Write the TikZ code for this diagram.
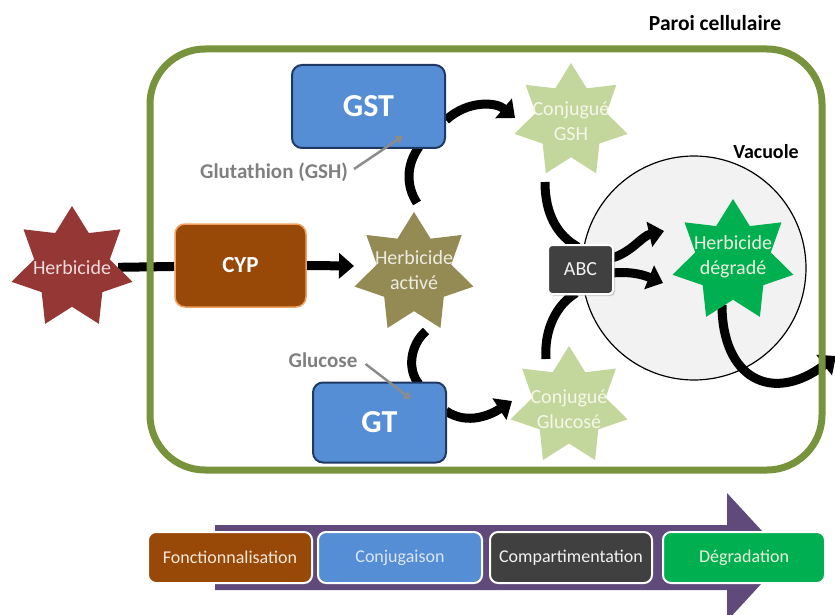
\documentclass[tikz,border=0pt]{standalone}
\usepackage{fontspec}
\setmainfont{Carlito}
\usetikzlibrary{shapes.geometric,arrows.meta,shadows}
\pgfdeclarelayer{bg}
\pgfdeclarelayer{arr}
\pgfsetlayers{bg,arr,main}
\definecolor{wallgreen}{HTML}{77933C}
\definecolor{herbred}{HTML}{953735}
\definecolor{herbtxt}{HTML}{F2DCDB}
\definecolor{cypfill}{HTML}{984807}
\definecolor{cypline}{HTML}{F0A060}
\definecolor{bluefill}{HTML}{558ED5}
\definecolor{blueline}{HTML}{1F3864}
\definecolor{activfill}{HTML}{948A54}
\definecolor{activtxt}{HTML}{EEECE1}
\definecolor{conjfill}{HTML}{C3D69B}
\definecolor{conjtxt}{HTML}{F4F8EA}
\definecolor{degfill}{HTML}{00B050}
\definecolor{degtxt}{HTML}{EBF1DE}
\definecolor{abcfill}{HTML}{404040}
\definecolor{vacfill}{HTML}{F2F2F2}
\definecolor{purp}{HTML}{604A7B}
\definecolor{graylbl}{HTML}{7F7F7F}
\definecolor{txtorange}{HTML}{FDE9D9}
\definecolor{txtblue}{HTML}{DCE6F2}
\begin{document}
\begin{tikzpicture}[x=1pt,y=-1pt,
  starshape/.style={star, star points=7, star point ratio=1.6, inner sep=0pt, draw=none},
  startxt/.style={font=\fontsize{20}{25}\selectfont, align=center, inner sep=0pt},
  enzbox/.style={rectangle, rounded corners=10pt, inner sep=0pt, text=white, font=\bfseries\fontsize{32}{34}\selectfont},
  stepbox/.style={rectangle, rounded corners=8pt, draw=white, line width=2pt, inner sep=0pt, minimum height=51pt, font=\fontsize{18}{20}\selectfont},
  fatline/.style={line width=9pt, black},
  fatarrow/.style={line width=9pt, black, -{Triangle[length=15pt,width=25pt]}},
  grayarr/.style={draw=graylbl!90, line width=2.5pt, -{Triangle[length=7pt,width=9pt]}},
  graytxt/.style={text=graylbl, font=\bfseries\fontsize{21}{24}\selectfont, inner sep=0pt},
  boldtxt/.style={font=\bfseries\fontsize{20}{24}\selectfont, inner sep=0pt}
]
\useasboundingbox (0,0) rectangle (835,615);
\clip (0,0) rectangle (835,615);

% bottom purple arrow
\fill[purp] (215,525) -- (727,525) -- (727,493) -- (786,557) -- (727,621) -- (727,590) -- (215,590) -- cycle;
\node[stepbox, fill=cypfill, text=txtorange, minimum width=164pt] (b1) at (230,557.5) {Fonctionnalisation};
\node[stepbox, fill=bluefill, text=txtblue, minimum width=164pt] (b2) at (400,557.5) {Conjugaison};
\node[stepbox, fill=abcfill, text=vacfill, minimum width=162pt] (b3) at (571,557.5) {Compartimentation};
\node[stepbox, fill=degfill, text=degtxt, minimum width=162pt] (b4) at (744,557.5) {Dégradation};

% titles
\node[boldtxt, font=\bfseries\fontsize{21.5}{24}\selectfont] (paroi) at (715,23) {Paroi cellulaire};
\node[boldtxt] (vactxt) at (766,152) {Vacuole};

% vacuole
\begin{pgfonlayer}{bg}
\fill[vacfill] (694,268) circle[radius=112pt];
\end{pgfonlayer}
\draw[black, line width=1.2pt] (694,268) circle[radius=112pt];
\coordinate (vac) at (694,268);

% cell wall
\draw[wallgreen, line width=7pt, rounded corners=55pt] (150,49) rectangle (822,470);

% nodes
\node[starshape, fill=herbred, minimum size=124pt,
  label={[startxt, text=herbtxt]center:Herbicide}] (hs) at (72,268) {};
\node[enzbox, fill=cypfill, draw=cypline, line width=1.5pt, minimum width=131pt, minimum height=83pt,
  font=\bfseries\fontsize{23}{26}\selectfont] (cyp) at (240.5,265.5) {CYP};
\node[starshape, fill=activfill, minimum size=122pt,
  label={[startxt, text=activtxt, yshift=3pt]center:Herbicide\\activé}] (activ) at (414,273) {};
\node[enzbox, fill=bluefill, draw=blueline, line width=2pt, minimum width=153pt, minimum height=83pt] (gst) at (368.5,106.5) {GST};
\node[enzbox, fill=bluefill, draw=blueline, line width=2pt, minimum width=133pt, minimum height=80pt] (gt) at (379.5,422.5) {GT};
\node[starshape, fill=conjfill, minimum size=116pt,
  label={[startxt, text=conjtxt]center:Conjugué\\GSH}] (cgsh) at (571,121) {};
\node[starshape, fill=conjfill, minimum size=120pt,
  label={[startxt, text=conjtxt, yshift=-3pt]center:Conjugué\\Glucosé}] (cglu) at (569,406) {};
\node[starshape, fill=degfill, minimum size=124pt,
  label={[startxt, text=degtxt, yshift=4pt]center:Herbicide\\dégradé}] (deg) at (733,261) {};
\node[rectangle, rounded corners=4pt, fill=abcfill, draw=white, line width=2pt,
  minimum width=65pt, minimum height=49pt, inner sep=0pt, text=vacfill,
  font=\fontsize{20}{24}\selectfont,
  drop shadow={shadow xshift=2pt, shadow yshift=-2pt, fill=gray!70}] (abc) at (580.5,269.5) {ABC};

\node[graytxt] (glut) at (274,172) {Glutathion (GSH)};
\node[graytxt] (gluc) at (323,360) {Glucose};

% connector end points
\coordinate (tipcyp) at (354,266);
\coordinate (a1s) at (417,203);
\coordinate (a1e) at (419,147);
\coordinate (a2s) at (446,120);
\coordinate (a2e) at (515,118);
\coordinate (a3s) at (426,331);
\coordinate (a3e) at (419,384);
\coordinate (a4s) at (446,411);
\coordinate (a4e) at (512,401);
\coordinate (a5s) at (545,182);
\coordinate (a5e) at (578,247);
\coordinate (a6s) at (576,293);
\coordinate (a6e) at (546,359);
\coordinate (a7s) at (612,258);
\coordinate (a7e) at (664,231);
\coordinate (a8s) at (612,273);
\coordinate (a8e) at (663,283);
\coordinate (a9s) at (722,305);
\coordinate (a9e) at (836,356);
\coordinate (gsttip) at (403,136);
\coordinate (gttip) at (411,399);

\begin{pgfonlayer}{arr}
\draw[fatline] (hs) -- (cyp);
\draw[fatarrow] (cyp.east) -- (tipcyp);
\draw[fatline] (a1s) .. controls (406,186) and (406,165) .. (a1e);
\draw[fatarrow] (a2s) .. controls (468,100) and (496,102) .. (a2e);
\draw[fatline] (a3s) .. controls (410,345) and (407,370) .. (a3e);
\draw[fatarrow] (a4s) .. controls (468,426) and (492,414) .. (a4e);
\draw[fatline] (a5s) .. controls (545,215) and (558,236) .. (a5e);
\draw[fatline] (a6s) .. controls (556,305) and (544,330) .. (a6e);
\draw[fatarrow] (a7s) .. controls (632,252) and (642,236) .. (a7e);
\draw[fatarrow] (a8s) .. controls (634,271) and (646,276) .. (a8e);
\draw[fatarrow] (a9s) .. controls (722,378) and (772,405) .. (a9e);
\end{pgfonlayer}

\draw[grayarr] (glut.east) ++(6,-3) -- (gsttip);
\draw[grayarr] (gluc.east) ++(8,4) -- (gttip);
\end{tikzpicture}
\end{document}
